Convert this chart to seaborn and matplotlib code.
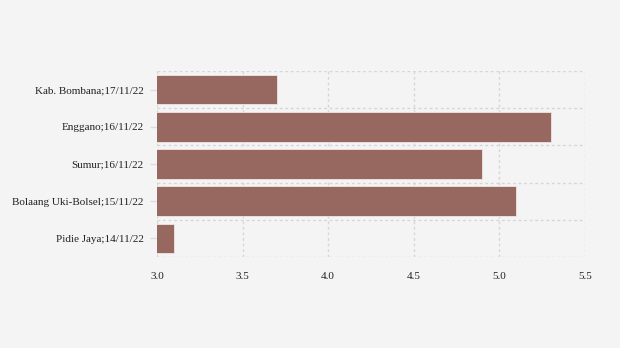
import matplotlib
matplotlib.use("Agg")
import matplotlib.pyplot as plt
import seaborn as sns
import pandas as pd

categories = ["Kab. Bombana;17/11/22", "Enggano;16/11/22", "Sumur;16/11/22",
              "Bolaang Uki-Bolsel;15/11/22", "Pidie Jaya;14/11/22"]
values = [3.7, 5.3, 4.9, 5.1, 3.1]
xticks = [3.0, 3.5, 4.0, 4.5, 5.0, 5.5]

df = pd.DataFrame({"cat": categories, "val": values})

sns.set_theme(style="white")
plt.rcParams["font.family"] = ["Liberation Serif", "DejaVu Serif"]

fig = plt.figure(figsize=(6.2, 3.48), dpi=100, facecolor="#f4f4f4")
ax = fig.add_axes([0.2532, 0.2615, 0.6903, 0.5345])
ax.set_facecolor("#f4f4f4")

sns.barplot(data=df, x="val", y="cat", orient="h", color="#976860",
            saturation=1, width=0.8, edgecolor="#f0e6e4", linewidth=0.6, ax=ax)

ax.set_xlim(3.0, 5.5)
ax.set_ylim(4.5, -0.5)
ax.set_xticks(xticks)
ax.set_xticklabels([f"{t:.1f}" for t in xticks])
ax.set_yticks(range(len(categories)))
ax.set_yticks([i - 0.5 for i in range(len(categories) + 1)], minor=True)
ax.set_xlabel("")
ax.set_ylabel("")

for s in ax.spines.values():
    s.set_visible(False)

grid_kw = dict(color="#d6d6d6", linestyle=(0, (2, 2)), linewidth=1.0)
ax.grid(False)
ax.xaxis.grid(True, which="major", **grid_kw)
ax.yaxis.grid(True, which="minor", **grid_kw)
ax.set_axisbelow(True)

ax.tick_params(axis="x", which="both", length=0, pad=11, labelsize=8, labelcolor="#222222")
ax.tick_params(axis="y", which="major", length=5, width=1, color="#dddddd", pad=4.5,
               labelsize=8, labelcolor="#222222", left=True)
ax.tick_params(axis="y", which="minor", length=0)

fig.savefig("out.png", dpi=100, facecolor=fig.get_facecolor())
